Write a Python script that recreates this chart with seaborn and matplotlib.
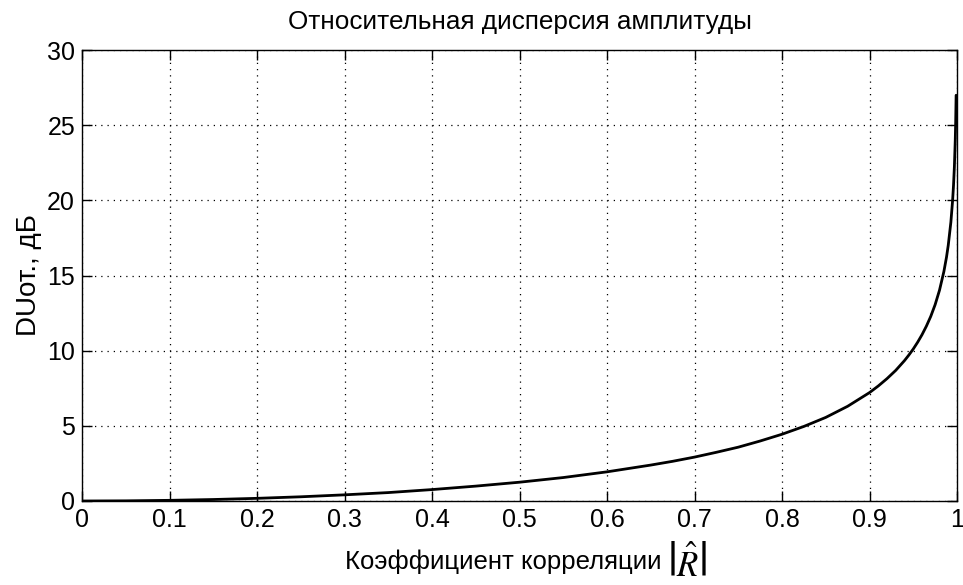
import matplotlib
matplotlib.use("Agg")
import matplotlib.pyplot as plt
import seaborn as sns
import pandas as pd

R_values = [0.0, 0.05, 0.1, 0.15, 0.2, 0.25, 0.3, 0.35, 0.4, 0.45, 0.5, 0.55, 0.6,
            0.65, 0.675, 0.7, 0.725, 0.75, 0.775, 0.8, 0.825, 0.85, 0.875, 0.9, 0.91,
            0.92, 0.93, 0.94, 0.945, 0.95, 0.955, 0.96, 0.965, 0.97, 0.975, 0.98,
            0.985, 0.988, 0.99, 0.993, 0.995, 0.996, 0.997, 0.998, 0.9985, 0.999]
DU_values = [0.0, 0.011, 0.044, 0.099, 0.177, 0.28, 0.41, 0.56, 0.76, 0.99, 1.25, 1.56, 1.94,
             2.39, 2.64, 2.92, 3.24, 3.58, 3.99, 4.44, 4.96, 5.56, 6.30, 7.21, 7.65,
             8.14, 8.69, 9.34, 9.71, 10.11, 10.56, 11.06, 11.63, 12.28, 13.06, 14.02,
             15.26, 16.22, 17.01, 18.55, 20.01, 20.98, 22.22, 23.98, 25.23, 26.99]
x_ticks = [0, 0.1, 0.2, 0.3, 0.4, 0.5, 0.6, 0.7, 0.8, 0.9, 1]
x_tick_labels = ["0", "0.1", "0.2", "0.3", "0.4", "0.5", "0.6", "0.7", "0.8", "0.9", "1"]
y_ticks = [0, 5, 10, 15, 20, 25, 30]

sns.set_theme(style="white")
plt.rcParams['font.family'] = ['Liberation Sans', 'DejaVu Sans']
plt.rcParams['mathtext.fontset'] = 'stix'

df = pd.DataFrame({"R": R_values, "DU": DU_values})

W, H = 963, 585
fig = plt.figure(figsize=(W / 100, H / 100), dpi=100)
ax = fig.add_axes([82 / W, (H - 501) / H, (957 - 82) / W, (501 - 50) / H])
sns.lineplot(data=df, x="R", y="DU", ax=ax, color="black", linewidth=2.0)

ax.set_xlim(0, 1)
ax.set_ylim(0, 30)
ax.set_xticks(x_ticks)
ax.set_xticklabels(x_tick_labels)
ax.set_yticks(y_ticks)
ax.grid(True, color="black", linestyle=(0, (1, 4)), linewidth=0.9)
ax.tick_params(direction="in", length=7, width=1, colors="black", labelsize=18,
               top=True, right=True, bottom=True, left=True, pad=5)
for s in ax.spines.values():
    s.set_color("black")
    s.set_linewidth(1.0)

ax.set_title("Относительная дисперсия амплитуды", fontsize=18.8, pad=15, color="black")
ax.set_xlabel("")
ax.set_ylabel("DUот., дБ", fontsize=20, color="black", labelpad=4)

fig.text(345 / W, (H - 562) / H, "Коэффициент корреляции", fontsize=18.5,
         color="black", ha="left", va="center")
fig.text(667 / W, (H - 563) / H, r"$\left|\hat{R}\right|$", fontsize=25,
         color="black", ha="left", va="center")

fig.savefig("out.png", dpi=100, facecolor="white")
